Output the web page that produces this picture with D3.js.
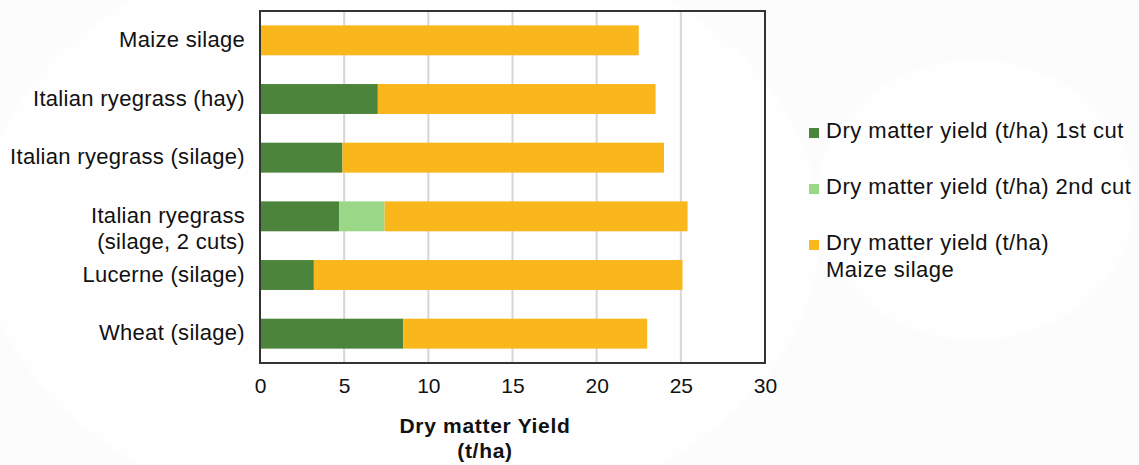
<!DOCTYPE html>
<html>
<head>
<meta charset="utf-8">
<script src="https://cdn.jsdelivr.net/npm/d3@7"></script>
<style>
  html, body { margin: 0; padding: 0; background: #fcfcfc; }
  svg { display: block; font-family: "Liberation Sans", Arial, Helvetica, sans-serif; }
</style>
</head>
<body>
<svg id="chart" width="1139" height="465"></svg>
<script>
// Crop categories, top to bottom
const categories = [
  "Maize silage",
  "Italian ryegrass (hay)",
  "Italian ryegrass (silage)",
  "Italian ryegrass\n(silage, 2 cuts)",
  "Lucerne (silage)",
  "Wheat (silage)"
];
// Dry matter yield (t/ha) per series
const firstCut  = [0, 7.0, 4.9, 4.7, 3.2, 8.5];
const secondCut = [0, 0, 0, 2.7, 0, 0];
const maizeSilage = [22.5, 16.5, 19.1, 18.0, 21.9, 14.5];
const seriesNames = [
  "Dry matter yield (t/ha) 1st cut",
  "Dry matter yield (t/ha) 2nd cut",
  "Dry matter yield (t/ha)\nMaize silage"
];
const seriesColors = ["#4c843c", "#9ad888", "#fab71b"];
const xTicks = [0, 5, 10, 15, 20, 25, 30];
const axisTitle = ["Dry matter Yield", "(t/ha)"];

const svg = d3.select("#chart");

// soft white backdrop patches
svg.append("ellipse").attr("cx", 400).attr("cy", 230).attr("rx", 420).attr("ry", 300)
  .attr("fill", "#fefefe");
svg.append("ellipse").attr("cx", 975).attr("cy", 200).attr("rx", 160).attr("ry", 140)
  .attr("fill", "#fefefe");

const margin = { left: 260, right: 374, top: 11, bottom: 102 };
const W = 1139, H = 465;

const x = d3.scaleLinear().domain([0, 30]).range([margin.left, W - margin.right]);
const y = d3.scaleBand().domain(categories).range([margin.top, H - margin.bottom])
  .paddingInner(0.49).paddingOuter(0.245);

const rows = categories.map((c, i) => ({ cat: c, s0: firstCut[i], s1: secondCut[i], s2: maizeSilage[i] }));
const stacked = d3.stack().keys(["s0", "s1", "s2"])(rows);

// vertical gridlines
svg.append("g").selectAll("line").data(xTicks.slice(1, -1)).join("line")
  .attr("x1", d => x(d)).attr("x2", d => x(d))
  .attr("y1", margin.top).attr("y2", H - margin.bottom)
  .attr("stroke", "#d6d6d6").attr("stroke-width", 2);

// stacked bars
svg.append("g").selectAll("g").data(stacked).join("g")
  .attr("fill", (d, i) => seriesColors[i])
  .selectAll("rect").data(d => d.filter(p => p[1] - p[0] > 0)).join("rect")
  .attr("x", d => x(d[0]))
  .attr("width", d => x(d[1]) - x(d[0]))
  .attr("y", d => y(d.data.cat))
  .attr("height", y.bandwidth());

// plot frame
svg.append("rect")
  .attr("x", margin.left).attr("y", margin.top)
  .attr("width", x(30) - x(0)).attr("height", H - margin.bottom - margin.top)
  .attr("fill", "none").attr("stroke", "#333").attr("stroke-width", 2);

// x axis tick labels
const xAxis = d3.axisBottom(x).tickValues(xTicks).tickSize(0).tickPadding(15);
const gx = svg.append("g").attr("transform", `translate(0,${H - margin.bottom})`).call(xAxis);
gx.select(".domain").remove();
gx.selectAll("text").attr("font-size", 21).attr("fill", "#111")
  .attr("font-family", "Liberation Sans, Arial, sans-serif");

// category labels (a second line hangs below the first)
const yAxis = d3.axisLeft(y).tickSize(0).tickPadding(15);
const gy = svg.append("g").attr("transform", `translate(${margin.left},0)`).call(yAxis);
gy.select(".domain").remove();
gy.selectAll("text").each(function(d) {
  const t = d3.select(this);
  const lines = d.split("\n");
  t.text(null).attr("font-size", 22).attr("fill", "#111")
    .attr("font-family", "Liberation Sans, Arial, sans-serif")
    .attr("letter-spacing", 0.3);
  lines.forEach((ln, k) => {
    t.append("tspan").attr("x", -15)
      .attr("dy", k === 0 ? "0.3em" : "1.18em")
      .text(ln);
  });
}).attr("dy", null);

// axis title
const titleX = 485;
const title = svg.append("text")
  .attr("x", titleX).attr("y", 433)
  .attr("text-anchor", "middle").attr("font-size", 21).attr("font-weight", "bold")
  .attr("letter-spacing", 0.7).attr("fill", "#111");
axisTitle.forEach((t, k) => {
  title.append("tspan").attr("x", titleX).attr("dy", k === 0 ? 0 : 25).text(t);
});

// legend
const legY = [138, 194, 250];
const leg = svg.append("g");
seriesNames.forEach((name, i) => {
  leg.append("rect").attr("x", 809).attr("y", legY[i] - 10).attr("width", 10).attr("height", 10)
    .attr("fill", seriesColors[i]);
  const t = leg.append("text").attr("x", 826).attr("y", legY[i])
    .attr("font-size", 22).attr("fill", "#111").attr("letter-spacing", 0.5);
  name.split("\n").forEach((ln, k) => {
    t.append("tspan").attr("x", 826).attr("dy", k === 0 ? 0 : 27).text(ln);
  });
});
</script>
</body>
</html>
